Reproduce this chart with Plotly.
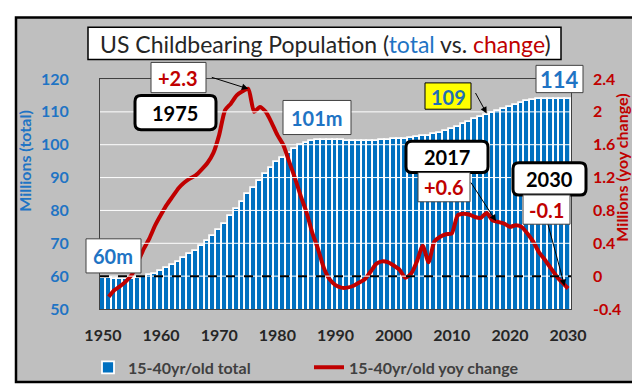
import plotly.graph_objects as go

# ---------------- data ----------------
bar_years = list(range(1950, 2031))
total_millions = [
    59.5, 59.3, 59.2, 59.1, 59.1, 59.2, 59.4, 59.8, 60.2, 60.8,   # 1950-59
    61.5, 62.4, 63.3, 64.3, 65.4, 66.6, 67.8, 69.1, 70.6, 72.2,   # 1960-69
    74.0, 76.0, 78.2, 80.4, 82.6, 84.9, 86.9, 89.0, 91.0, 92.9,   # 1970-79
    94.6, 96.0, 97.4, 98.7, 99.8, 100.6, 101.1, 101.4, 101.5, 101.5,  # 1980-89
    101.4, 101.3, 101.2, 101.1, 101.1, 101.1, 101.1, 101.2, 101.3, 101.5,  # 1990-99
    101.6, 101.7, 101.8, 101.9, 102.2, 102.6, 102.8, 103.2, 103.7, 104.2,  # 2000-09
    104.8, 105.5, 106.3, 107.0, 107.7, 108.4, 109.1, 109.7, 110.4, 111.0,  # 2010-19
    111.6, 112.2, 112.8, 113.3, 113.6, 113.8, 113.9, 114.0, 114.0, 113.9,  # 2020-29
    113.8,                                                                # 2030
]

line_years = list(range(1951, 2031))
yoy_change = [
    -0.25, -0.17, -0.12, -0.06, 0.02, 0.17, 0.33, 0.46, 0.62,          # 1951-59
    0.75, 0.87, 0.97, 1.07, 1.14, 1.19, 1.23, 1.30, 1.38, 1.50,        # 1960-69
    1.72, 2.02, 2.10, 2.20, 2.25, 2.28, 2.00, 2.06, 2.00, 1.87,        # 1970-79
    1.72, 1.60, 1.40, 1.20, 0.98, 0.78, 0.53, 0.33, 0.10, -0.04,       # 1980-89
    -0.11, -0.14, -0.14, -0.12, -0.08, -0.04, 0.05, 0.15, 0.18, 0.17,  # 1990-99
    0.13, 0.08, -0.02, 0.03, 0.18, 0.37, 0.17, 0.42, 0.48, 0.51,       # 2000-09
    0.52, 0.74, 0.76, 0.75, 0.72, 0.71, 0.77, 0.68, 0.66, 0.64,        # 2010-19
    0.60, 0.62, 0.60, 0.52, 0.42, 0.29, 0.20, 0.10, 0.00, -0.08,       # 2020-29
    -0.15,                                                             # 2030
]

x_ticks = [1950, 1960, 1970, 1980, 1990, 2000, 2010, 2020, 2030]
left_ticks = [50, 60, 70, 80, 90, 100, 110, 120]
right_ticks = [-0.4, 0, 0.4, 0.8, 1.2, 1.6, 2.0, 2.4]
right_tick_text = ["-0.4", "0", "0.4", "0.8", "1.2", "1.6", "2", "2.4"]

# ---------------- styling ----------------
W, H = 640, 388
L, R, T, B = 92, 77, 71, 81
PW, PH = W - L - R, H - T - B
FONT = "Lato"
BLUE = "#0070C0"
BLUE_TXT = "#1f74c4"
RED = "#C00000"
GRAY = "#bfbfbf"


def px(x):
    return (x - L) / PW


def py(y):
    return (H - B - y) / PH


def rrect(x0, y0, x1, y1, r):
    pts = [
        ("M", x0 + r, y0), ("L", x1 - r, y0), ("Q", x1, y0, x1, y0 + r),
        ("L", x1, y1 - r), ("Q", x1, y1, x1 - r, y1), ("L", x0 + r, y1),
        ("Q", x0, y1, x0, y1 - r), ("L", x0, y0 + r), ("Q", x0, y0, x0 + r, y0),
    ]
    s = ""
    for p in pts:
        if p[0] == "Q":
            s += f"Q {px(p[1])},{py(p[2])} {px(p[3])},{py(p[4])} "
        else:
            s += f"{p[0]} {px(p[1])},{py(p[2])} "
    return s + "Z"


fig = go.Figure()
fig.add_trace(go.Bar(
    x=bar_years, y=total_millions, name="15-40yr/old total",
    marker=dict(color=BLUE, line=dict(color="white", width=1.8)),
    yaxis="y",
))
fig.add_trace(go.Scatter(
    x=line_years, y=yoy_change, name="15-40yr/old yoy change",
    mode="lines", line=dict(color=RED, width=4, shape="spline", smoothing=0.6),
    yaxis="y2",
))

shapes = []
# outer frame
shapes.append(dict(type="rect", xref="paper", yref="paper",
                   x0=px(8), x1=px(632), y0=py(382), y1=py(8),
                   fillcolor=GRAY, line=dict(color="black", width=2.5), layer="below"))
# gridlines (drawn over the bars as in the original)
for v in left_ticks[1:-1]:
    shapes.append(dict(type="line", xref="paper", yref="y", x0=0, x1=1, y0=v, y1=v,
                       line=dict(color="white", width=1), layer="above"))
# zero line of yoy change
shapes.append(dict(type="line", xref="paper", yref="y2", x0=0, x1=1, y0=0, y1=0,
                   line=dict(color="black", width=2, dash="dash"), layer="above"))


def box(x0, y0, x1, y1, fill="white", color="#404040", width=1):
    shapes.append(dict(type="rect", xref="paper", yref="paper",
                       x0=px(x0), x1=px(x1), y0=py(y1), y1=py(y0),
                       fillcolor=fill, line=dict(color=color, width=width), layer="above"))


def rbox(x0, y0, x1, y1):
    shapes.append(dict(type="path", xref="paper", yref="paper", path=rrect(x0, y0, x1, y1, 6),
                       fillcolor="white", line=dict(color="black", width=3), layer="above"))


annotations = []


def label(cx, cy, text, color, size=20, bold=True):
    annotations.append(dict(xref="paper", yref="paper", x=px(cx), y=py(cy),
                            text=f"<b>{text}</b>" if bold else text, showarrow=False,
                            font=dict(family=FONT, size=size, color=color),
                            xanchor="center", yanchor="middle"))


def arrow(hx, hy, tx, ty, yref="y2"):
    annotations.append(dict(xref="x", yref=yref, x=hx, y=hy, ax=tx, ay=ty,
                            axref="pixel", ayref="pixel", text="", showarrow=True,
                            arrowhead=2, arrowsize=1.3, arrowwidth=1, arrowcolor="black"))


# title
box(80, 18, 553, 51, color="black", width=1.5)
annotations.append(dict(
    xref="paper", yref="paper", x=px(317), y=py(35), showarrow=False,
    text=("US Childbearing Population (<span style='color:#1f74c4'>total</span> vs. "
          "<span style='color:#C00000'>change</span>)"),
    font=dict(family=FONT, size=23, color="#262626"), xanchor="center", yanchor="middle"))

# +2.3 / 1975
box(143, 54, 198, 85)
label(170, 70, "+2.3", RED)
rbox(127, 88, 208, 123)
label(167, 106, "1975", "black")
arrow(1975, 2.28, -38, -12)

# 101m, 60m
box(275, 93, 343, 128)
label(309, 111, "101m", BLUE_TXT)
box(78, 235, 133, 270)
label(105, 253, "60m", BLUE_TXT)

# 109 / 114
box(417, 75, 463, 102, fill="#FFFF00", color="black")
label(440, 89, "109", "#1f6fb5")
arrow(2016, 109.5, -12, -22, yref="y")
box(528, 57, 575, 85)
label(551, 71, "114", BLUE_TXT, size=22)

# 2017 / +0.6
rbox(398, 135, 480, 167)
label(439, 151, "2017", "black")
box(410, 167, 462, 197)
label(436, 182, "+0.6", RED)
arrow(2017.6, 0.67, -26, -40)

# 2030 / -0.1
rbox(505, 157, 578, 190)
label(541, 174, "2030", "black")
box(515, 190, 562, 220)
label(538, 205, "-0.1", RED)
arrow(2029.4, -0.12, -17, -63)

# axis titles
annotations.append(dict(xref="paper", yref="paper", x=px(17), y=py(155), showarrow=False,
                        text="<b>Millions (total)</b>", textangle=-90,
                        xanchor="center", yanchor="middle",
                        font=dict(family=FONT, size=16, color=BLUE_TXT)))
annotations.append(dict(xref="paper", yref="paper", x=px(614), y=py(162), showarrow=False,
                        text="<b>Millions (yoy change)</b>", textangle=-90,
                        xanchor="center", yanchor="middle",
                        font=dict(family=FONT, size=16, color=RED)))

fig.update_layout(
    width=W, height=H, autosize=False,
    margin=dict(l=L, r=R, t=T, b=B, pad=0),
    paper_bgcolor="white", plot_bgcolor=GRAY,
    font=dict(family=FONT),
    bargap=0,
    showlegend=True,
    legend=dict(orientation="h", x=px(80), y=py(367), xanchor="left", yanchor="middle",
                bgcolor="rgba(0,0,0,0)", entrywidth=176, entrywidthmode="pixels",
                font=dict(family=FONT, size=16, color="#404040", weight="bold"),
                traceorder="normal"),
    xaxis=dict(range=[1949.5, 2030.5], tickvals=x_ticks, showgrid=False,
               showline=True, mirror=True, linecolor="#404040", linewidth=1,
               ticks="", ticklabelstandoff=12,
               tickfont=dict(family=FONT, size=16, color="#262626", weight="bold"),
               zeroline=False),
    yaxis=dict(range=[50, 120], tickvals=left_ticks, showgrid=False,
               showline=True, mirror=True, linecolor="#404040", linewidth=1,
               ticks="", ticklabelstandoff=27, zeroline=False,
               tickfont=dict(family=FONT, size=16, color=BLUE_TXT, weight="bold")),
    yaxis2=dict(range=[-0.4, 2.4], tickvals=right_ticks, ticktext=right_tick_text,
                overlaying="y", side="right", showgrid=False, zeroline=False,
                ticks="", ticklabelstandoff=21, showline=False,
                tickfont=dict(family=FONT, size=16, color=RED, weight="bold")),
    shapes=shapes,
    annotations=annotations,
)

fig.write_html("out.html")
